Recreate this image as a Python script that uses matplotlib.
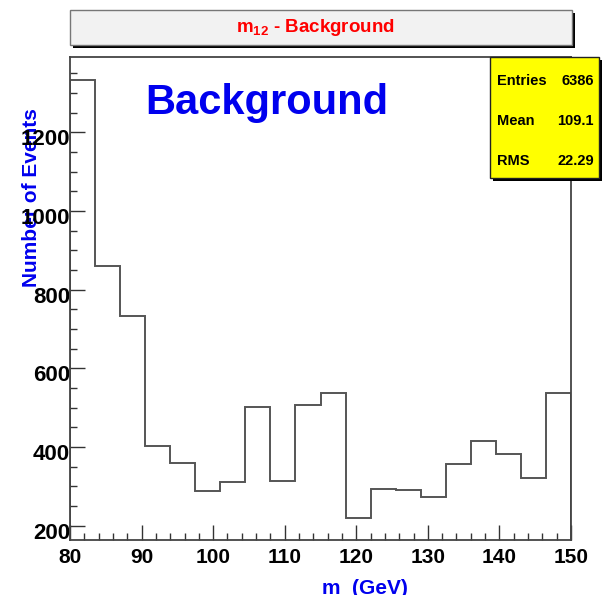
import matplotlib
matplotlib.use("Agg")
import matplotlib.pyplot as plt
import numpy as np
from matplotlib.patches import Rectangle
from matplotlib.ticker import MultipleLocator
import matplotlib.transforms as mtransforms

# ---- data ----
bin_edges = [80 + 3.5 * i for i in range(21)]
counts = [1333, 860, 734, 403, 360, 288, 311, 503, 314, 507,
          538, 219, 293, 291, 274, 356, 415, 382, 322, 538]
x_ticks = [80, 90, 100, 110, 120, 130, 140, 150]
y_ticks = [200, 400, 600, 800, 1000, 1200]
stats_labels = ["Entries", "Mean", "RMS"]
stats_values = ["6386", "109.1", "22.29"]
title_text = r"m$_{\mathbf{12}}$ - Background"
x_label = "m  (GeV)"
y_label = "Number of Events"
big_text = "Background"

plt.rcParams['font.family'] = ['Liberation Sans', 'DejaVu Sans']
plt.rcParams['font.weight'] = 'bold'
plt.rcParams['mathtext.fontset'] = 'custom'
plt.rcParams['mathtext.rm'] = 'Liberation Sans:bold'
plt.rcParams['mathtext.bf'] = 'Liberation Sans:bold'
plt.rcParams['mathtext.it'] = 'Liberation Sans:bold'

W, H = 603, 595
fig = plt.figure(figsize=(W / 100, H / 100), dpi=100)
fig.patch.set_facecolor('white')

def fx(px):
    return px / W

def fy(py):
    return 1 - py / H

ax_l, ax_r, ax_t, ax_b = 70, 571, 57, 540
ax = fig.add_axes([fx(ax_l), fy(ax_b), fx(ax_r - ax_l), (ax_b - ax_t) / H])
ax.patch.set_facecolor('none')

ax.stairs(counts, bin_edges, baseline=0, color='#555555', linewidth=1.4)
ax.set_xlim(80, 150)
ax.set_ylim(164, 1391)

ax.set_xticks(x_ticks)
ax.set_yticks(y_ticks)
ax.xaxis.set_minor_locator(MultipleLocator(2))
ax.yaxis.set_minor_locator(MultipleLocator(50))
ax.tick_params(which='both', direction='in', color='#333333', width=1.0,
               top=False, right=False)
ax.tick_params(axis='y', which='major', length=11, pad=0, labelsize=16)
ax.tick_params(axis='y', which='minor', length=5)
ax.tick_params(axis='x', which='major', length=11, pad=6, labelsize=15)
ax.tick_params(axis='x', which='minor', length=5)
for lab in ax.get_xticklabels() + ax.get_yticklabels():
    lab.set_fontweight('bold')
offset = mtransforms.ScaledTranslation(0, -5 / 100, fig.dpi_scale_trans)
for lab in ax.get_yticklabels():
    lab.set_transform(lab.get_transform() + offset)

for s in ax.spines.values():
    s.set_color('#444444')
    s.set_linewidth(1.3)

# big label
fig.text(fx(267), fy(103), big_text, color='#0000ee', fontsize=30,
         fontweight='bold', ha='center', va='center')

# axis titles (y title drawn beneath the tick labels)
fig.text(fx(32), fy(198), y_label, color='#0000ee', fontsize=15,
         fontweight='bold', rotation=90, ha='center', va='center', zorder=-1)
fig.text(fx(365), fy(589), x_label, color='#0000ee', fontsize=15,
         fontweight='bold', ha='center', va='center')

# title box
tb_l, tb_r, tb_t, tb_b = 70, 572, 10, 45
fig.add_artist(Rectangle((fx(tb_l + 3), fy(tb_b + 3)), fx(tb_r - tb_l), (tb_b - tb_t) / H,
                         transform=fig.transFigure, facecolor='black',
                         edgecolor='none', zorder=5))
fig.add_artist(Rectangle((fx(tb_l), fy(tb_b)), fx(tb_r - tb_l), (tb_b - tb_t) / H,
                         transform=fig.transFigure, facecolor='#f2f2f2',
                         edgecolor='#777777', linewidth=1.0, zorder=6))
fig.text(fx(315), fy(28), title_text, color='#ff0000', fontsize=13.5,
         fontweight='bold', ha='center', va='center', zorder=7)

# stats box
sb_l, sb_r, sb_t, sb_b = 490, 599, 57, 178
fig.add_artist(Rectangle((fx(sb_l + 3), fy(sb_b + 3)), fx(sb_r - sb_l), (sb_b - sb_t) / H,
                         transform=fig.transFigure, facecolor='black',
                         edgecolor='none', zorder=5))
fig.add_artist(Rectangle((fx(sb_l), fy(sb_b)), fx(sb_r - sb_l), (sb_b - sb_t) / H,
                         transform=fig.transFigure, facecolor='#ffff00',
                         edgecolor='#222222', linewidth=1.0, zorder=6))
for i, (lab, val) in enumerate(zip(stats_labels, stats_values)):
    yy = 81 + i * 40
    fig.text(fx(497), fy(yy), lab, fontsize=10.5, fontweight='bold',
             ha='left', va='center', zorder=7)
    fig.text(fx(594), fy(yy), val, fontsize=10.5, fontweight='bold',
             ha='right', va='center', zorder=7)

fig.savefig('out.png', dpi=100)
